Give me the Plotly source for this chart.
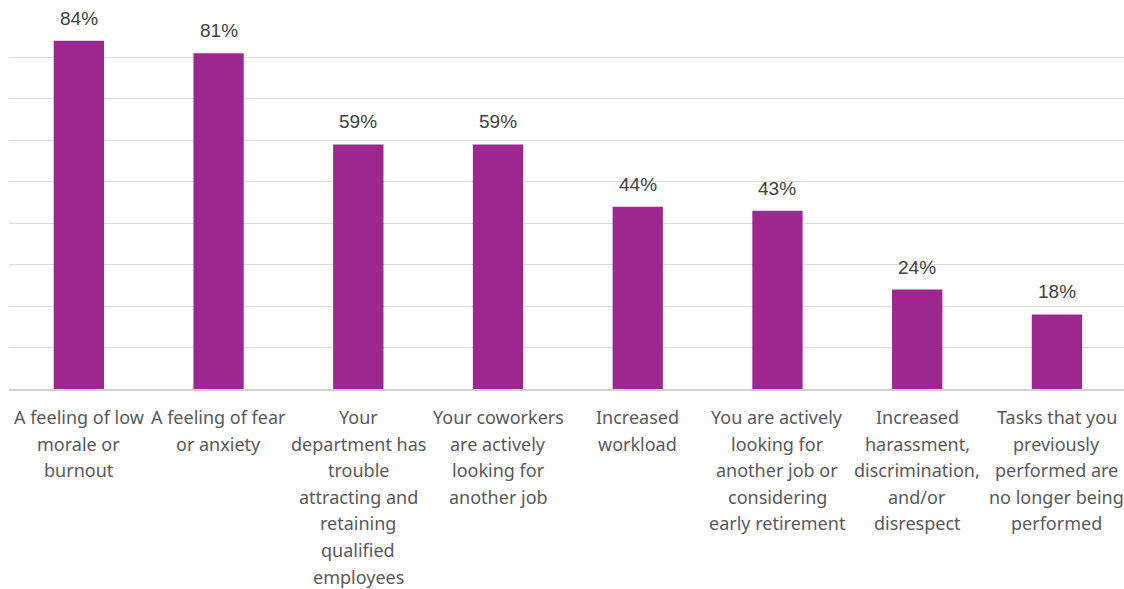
import plotly.graph_objects as go

categories = [
    "A feeling of low<br>morale or<br>burnout",
    "A feeling of fear<br>or anxiety",
    "Your<br>department has<br>trouble<br>attracting and<br>retaining<br>qualified<br>employees",
    "Your coworkers<br>are actively<br>looking for<br>another job",
    "Increased<br>workload",
    "You are actively<br>looking for<br>another job or<br>considering<br>early retirement",
    "Increased<br>harassment,<br>discrimination,<br>and/or<br>disrespect",
    "Tasks that you<br>previously<br>performed are<br>no longer being<br>performed",
]
values = [0.84, 0.81, 0.59, 0.59, 0.44, 0.43, 0.24, 0.18]
labels = [f"{round(v*100)}%" for v in values]

xs = list(range(len(categories)))

fig = go.Figure(go.Bar(
    x=xs,
    y=values,
    marker=dict(color="#9C278F", line=dict(width=0)),
    width=0.36,
    hoverinfo="skip",
))

annotations = []
# value labels above bars
for i, (v, lab) in enumerate(zip(values, labels)):
    annotations.append(dict(
        x=i, y=v, xref="x", yref="y", text=lab, showarrow=False,
        yanchor="bottom", yshift=10,
        font=dict(size=19, color="#404040", family="Liberation Sans, Arial"),
    ))
# category labels, line by line (~27px line spacing)
for i, cat in enumerate(categories):
    for j, line in enumerate(cat.split("<br>")):
        annotations.append(dict(
            x=i, y=0, xref="x", yref="y", text=line, showarrow=False,
            yanchor="middle", yshift=-(28 + 26.6 * j),
            font=dict(size=18, color="#595959", family="Noto Sans"),
        ))

fig.update_layout(
    width=1124, height=589,
    margin=dict(l=9, r=0, t=16, b=200),
    paper_bgcolor="white", plot_bgcolor="white",
    showlegend=False,
    font=dict(family="Noto Sans", color="#595959"),
    annotations=annotations,
    xaxis=dict(
        range=[-0.5, 7.48],
        showticklabels=False,
        showline=True, linecolor="#d0d0d0", linewidth=1.5,
        ticks="", showgrid=False, zeroline=False,
    ),
    yaxis=dict(
        range=[0, 0.9],
        dtick=0.1,
        showticklabels=False,
        showgrid=True, gridcolor="#d9d9d9", gridwidth=1.2,
        zeroline=False,
    ),
)

fig.write_html("out.html")
